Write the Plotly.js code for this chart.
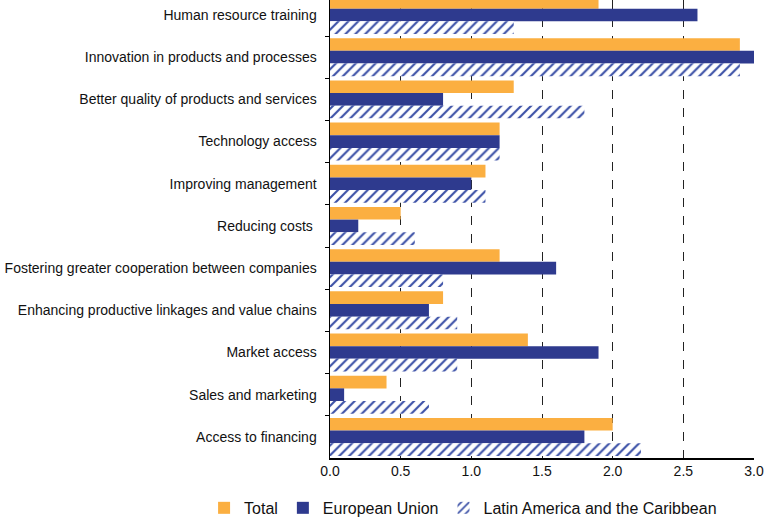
<!DOCTYPE html>
<html>
<head>
<meta charset="utf-8">
<script src="https://cdn.plot.ly/plotly-3.0.1.min.js"></script>
<style>html,body{margin:0;padding:0;background:#fff;}#chart{width:767px;height:518px;}</style>
</head>
<body>
<div id="chart"></div>
<script>
const categories = [
  "Human resource training",
  "Innovation in products and processes",
  "Better quality of products and services",
  "Technology access",
  "Improving management",
  "Reducing costs ",
  "Fostering greater cooperation between companies",
  "Enhancing productive linkages and value chains",
  "Market access",
  "Sales and marketing",
  "Access to financing"
];
const totalValues = [1.9, 2.9, 1.3, 1.2, 1.1, 0.5, 1.2, 0.8, 1.4, 0.4, 2.0];
const euValues    = [2.6, 3.0, 0.8, 1.2, 1.0, 0.2, 1.6, 0.7, 1.9, 0.1, 1.8];
const lacValues   = [1.3, 2.9, 1.8, 1.2, 1.1, 0.6, 0.8, 0.9, 0.9, 0.7, 2.2];
const xTickVals = [0, 0.5, 1, 1.5, 2, 2.5, 3];
const xTickText = ["0.0", "0.5", "1.0", "1.5", "2.0", "2.5", "3.0"];

const traces = [
  {type: "bar", orientation: "h", name: "Total", y: categories, x: totalValues,
   marker: {color: "#FBAF41", line: {width: 0}}},
  {type: "bar", orientation: "h", name: "European Union", y: categories, x: euValues,
   marker: {color: "#2E3A8E", line: {width: 0}}},
  {type: "bar", orientation: "h", name: "Latin America and the Caribbean", y: categories, x: lacValues,
   marker: {color: "#ffffff", line: {width: 0},
            pattern: {shape: "/", fgcolor: "#3A4FA6", bgcolor: "#ffffff", size: 7, solidity: 0.3}}}
];

const layout = {
  width: 767, height: 518,
  margin: {l: 330, r: 13, t: 0, b: 60, autoexpand: false},
  paper_bgcolor: "#fff", plot_bgcolor: "#fff",
  barmode: "group", bargap: 0.1, bargroupgap: 0,
  font: {family: "Liberation Sans, Arial, sans-serif", size: 14, color: "#111"},
  showlegend: true,
  legend: {orientation: "h", x: -0.297, xanchor: "left",
           y: -0.109, yanchor: "middle", bgcolor: "rgba(0,0,0,0)",
           font: {size: 16, color: "#111"}, traceorder: "normal",
           itemwidth: 30},
  xaxis: {range: [0, 3], tickvals: xTickVals, ticktext: xTickText, showgrid: true,
          gridcolor: "#222", griddash: "dash", gridwidth: 1, zeroline: false,
          showline: true, linecolor: "#000", linewidth: 1.5, ticks: "", fixedrange: true,
          tickfont: {size: 14}},
  yaxis: {type: "category", range: [10.5, -0.355], showgrid: false, zeroline: false,
          showline: true, linecolor: "#000", linewidth: 1.5, ticks: "outside", ticklen: 4,
          tickson: "boundaries", tickcolor: "#000", tickfont: {size: 14}, fixedrange: true,
          ticklabelstandoff: 9}
};

Plotly.newPlot("chart", traces, layout, {displayModeBar: false, staticPlot: true});
</script>
</body>
</html>
